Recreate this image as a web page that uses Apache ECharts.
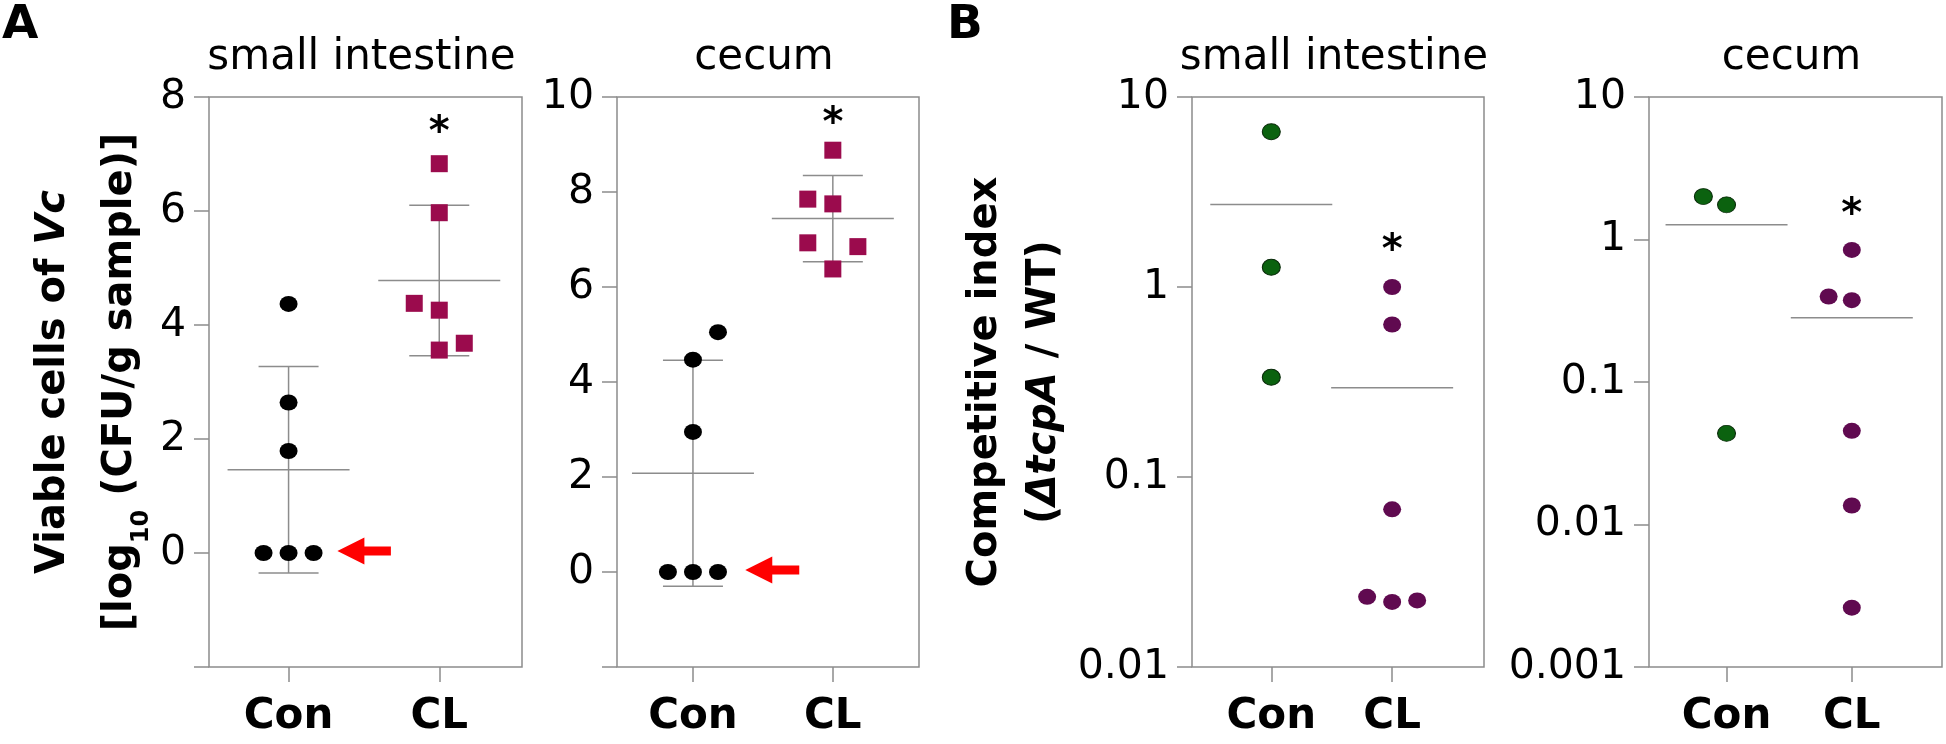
<!DOCTYPE html>
<html><head><meta charset="utf-8">
<script src="https://cdn.jsdelivr.net/npm/echarts@6/dist/echarts.min.js"></script>
<style>html,body{margin:0;padding:0;background:#fff}#c{width:1946px;height:744px}</style>
</head><body><div id="c"></div>
<script>
// ---------- DATA ----------
const groups = ['Con', 'CL'];
// Panel A: viable cells of Vc, log10 CFU/g sample
const siConA = [4.37, 2.64, 1.79, 0, 0, 0];
const siConASlot = [0, 0, 0, -1, 0, 1];
const siCLA = [6.83, 5.97, 4.38, 4.26, 3.56, 3.68];
const siCLASlot = [0, 0, -1, 0, 0, 1];
const siMeanA = [1.46, 4.78];
const siSDA = [1.81, 1.32];
const ceConA = [5.05, 4.47, 2.95, 0, 0, 0];
const ceConASlot = [1, 0, 0, -1, 0, 1];
const ceCLA = [8.88, 7.85, 7.75, 6.93, 6.85, 6.38];
const ceCLASlot = [0, -1, 0, -1, 1, 0];
const ceMeanA = [2.08, 7.44];
const ceSDA = [2.38, 0.91];
const starA = [7.52, 9.6];
const arrowA = [[1.324, 1.679], [1.374, 1.76]];
// Panel B: competitive index (dtcpA / WT)
const siConB = [6.57, 1.27, 0.335];
const siConBSlot = [0, 0, 0];
const siCLB = [1.0, 0.635, 0.0676, 0.0234, 0.022, 0.0224];
const siCLBSlot = [0, 0, 0, -1, 0, 1];
const siMeanB = [2.72, 0.295];
const ceConB = [2.0, 1.75, 0.0436];
const ceConBSlot = [-1, 0, 0];
const ceCLB = [0.845, 0.398, 0.375, 0.0454, 0.0136, 0.00261];
const ceCLBSlot = [0, -1, 0, 0, 0, 0];
const ceMeanB = [1.27, 0.282];
const starB = [1.71, 1.71];

// ---------- STYLE / LAYOUT ----------
const FONT = 'DejaVu Sans';
const GRAY = '#8c8c8c';
const TOP = 97, HEIGHT = 570;
const panels = [
  {left: 209, width: 313, xmin: 0.472, xmax: 2.549, jit: 0.166, title: 'small intestine', log: false, min: -2, max: 8},
  {left: 617, width: 302, xmin: 0.457, xmax: 2.616, jit: 0.179, title: 'cecum', log: false, min: -2, max: 10},
  {left: 1192, width: 292, xmin: 0.344, xmax: 2.76, jit: 0.207, title: 'small intestine', log: true, min: 0.01, max: 10},
  {left: 1649, width: 293, xmin: 0.381, xmax: 2.72, jit: 0.185, title: 'cecum', log: true, min: 0.001, max: 10}
];

const grids = panels.map(p => ({
  left: p.left, top: TOP, width: p.width, height: HEIGHT,
  show: true, borderColor: GRAY, borderWidth: 1.5, backgroundColor: 'transparent'
}));

const xAxes = panels.map((p, i) => ({
  type: 'value', gridIndex: i, min: p.xmin, max: p.xmax,
  axisLine: {show: false, onZero: false},
  splitLine: {show: false},
  axisTick: {show: true, customValues: [1, 2], length: 15, lineStyle: {color: GRAY, width: 1.5}},
  axisLabel: {show: true, customValues: [1, 2], margin: 29, formatter: v => groups[Math.round(v) - 1],
    fontFamily: FONT, fontSize: 42, fontWeight: 'bold', color: '#000'}
}));

function logFmt(v) {
  const e = Math.round(Math.log10(v));
  return e >= 0 ? String(Math.pow(10, e)) : Math.pow(10, e).toFixed(-e);
}

const nameRich = {
  b: {fontFamily: FONT, fontSize: 40, fontWeight: 'bold', color: '#000'},
  bi: {fontFamily: FONT, fontSize: 40, fontWeight: 'bold', fontStyle: 'italic', color: '#000'},
  sub: {fontFamily: FONT, fontSize: 24, fontWeight: 'bold', color: '#000', verticalAlign: 'bottom', lineHeight: 24}
};

const yAxes = panels.map((p, i) => {
  const base = {
    gridIndex: i, min: p.min, max: p.max,
    axisLine: {show: false, onZero: false},
    splitLine: {show: false},
    axisTick: {show: true, length: 15, lineStyle: {color: GRAY, width: 1.5}},
    axisLabel: {margin: 23, fontFamily: FONT, fontSize: 41, color: '#000'}
  };
  if (p.log) {
    base.type = 'log'; base.logBase = 10;
    base.axisLabel.formatter = logFmt;
  } else {
    base.type = 'value'; base.interval = 2;
    base.axisLabel.formatter = v => (v < 0 ? '' : String(v));
  }
  if (i === 0) {
    base.name = '{b|Viable cells of }{bi|Vc}\n{b|[log}{sub|10}{b| (CFU/g sample)]}';
    base.nameLocation = 'middle'; base.nameRotate = 90; base.nameGap = 55;
    base.nameTextStyle = {lineHeight: 67, rich: Object.fromEntries(Object.entries(nameRich).map(([k, s]) => [k, Object.assign({lineHeight: k === 'sub' ? 24 : 67}, s)]))};
  }
  if (i === 2) {
    base.name = '{b|Competitive index}\n{b|(}{bi|\u0394tcpA}{b| / WT)}';
    base.nameLocation = 'middle'; base.nameRotate = 90; base.nameGap = 100;
    base.nameTextStyle = {lineHeight: 59, rich: Object.fromEntries(Object.entries(nameRich).map(([k, s]) => [k, Object.assign({lineHeight: 59}, s)]))};
  }
  return base;
});

function pts(vals, slots, g, jit) { return vals.map((v, k) => [g + slots[k] * jit, v]); }

function scatter(i, data, symbol, color, border) {
  return {
    type: 'scatter', xAxisIndex: i, yAxisIndex: i, data, symbol,
    symbolSize: symbol === 'rect' ? 17 : [18, 16], z: 5, silent: true,
    itemStyle: {color, opacity: 1, borderColor: border || color, borderWidth: border ? 1 : 0}
  };
}

function meanSeries(i, means, sds) {
  return {
    type: 'custom', xAxisIndex: i, yAxisIndex: i, silent: true, z: 2,
    data: means.map((m, k) => sds ? [k + 1, m, m - sds[k], m + sds[k]] : [k + 1, m]),
    renderItem(params, api) {
      const x = api.value(0);
      const c = api.coord([x, api.value(1)]);
      const ls = {stroke: GRAY, lineWidth: 1.5};
      const ch = [{type: 'line', shape: {x1: c[0] - 61, y1: c[1], x2: c[0] + 61, y2: c[1]}, style: ls}];
      if (sds) {
        const lo = api.coord([x, api.value(2)]);
        const hi = api.coord([x, api.value(3)]);
        ch.push({type: 'line', shape: {x1: c[0], y1: lo[1], x2: c[0], y2: hi[1]}, style: ls});
        ch.push({type: 'line', shape: {x1: c[0] - 30, y1: lo[1], x2: c[0] + 30, y2: lo[1]}, style: ls});
        ch.push({type: 'line', shape: {x1: c[0] - 30, y1: hi[1], x2: c[0] + 30, y2: hi[1]}, style: ls});
      }
      return {type: 'group', children: ch};
    }
  };
}

function starSeries(i, yv) {
  return {
    type: 'custom', xAxisIndex: i, yAxisIndex: i, silent: true, z: 6,
    data: [[2, yv]],
    renderItem(params, api) {
      const c = api.coord([api.value(0), api.value(1)]);
      return {type: 'text', x: c[0], y: c[1] + 9, style: {text: '*', font: 'bold 40px "DejaVu Sans"', fill: '#000',
        align: 'center', verticalAlign: 'middle', textAlign: 'center', textVerticalAlign: 'middle'}};
    }
  };
}

function arrowSeries(i, a) {
  return {
    type: 'custom', xAxisIndex: i, yAxisIndex: i, silent: true, z: 6,
    data: [[a[0], a[1], 0]],
    renderItem(params, api) {
      const tip = api.coord([api.value(0), api.value(2)]);
      const tail = api.coord([api.value(1), api.value(2)]);
      const y = tip[1] - 2, hl = 27, hh = 13.5, sh = 4.5;
      const pts = [[tip[0], y], [tip[0] + hl, y - hh], [tip[0] + hl, y - sh], [tail[0], y - sh],
        [tail[0], y + sh], [tip[0] + hl, y + sh], [tip[0] + hl, y + hh]];
      return {type: 'polygon', shape: {points: pts}, style: {fill: '#ff0000'}};
    }
  };
}

const series = [
  meanSeries(0, siMeanA, siSDA),
  scatter(0, pts(siConA, siConASlot, 1, panels[0].jit), 'circle', '#000'),
  scatter(0, pts(siCLA, siCLASlot, 2, panels[0].jit), 'rect', '#9b0b4d'),
  starSeries(0, starA[0]),
  arrowSeries(0, arrowA[0]),
  meanSeries(1, ceMeanA, ceSDA),
  scatter(1, pts(ceConA, ceConASlot, 1, panels[1].jit), 'circle', '#000'),
  scatter(1, pts(ceCLA, ceCLASlot, 2, panels[1].jit), 'rect', '#9b0b4d'),
  starSeries(1, starA[1]),
  arrowSeries(1, arrowA[1]),
  meanSeries(2, siMeanB, null),
  scatter(2, pts(siConB, siConBSlot, 1, panels[2].jit), 'circle', '#0b620f', '#0a2a0a'),
  scatter(2, pts(siCLB, siCLBSlot, 2, panels[2].jit), 'circle', '#600a50'),
  starSeries(2, starB[0]),
  meanSeries(3, ceMeanB, null),
  scatter(3, pts(ceConB, ceConBSlot, 1, panels[3].jit), 'circle', '#0b620f', '#0a2a0a'),
  scatter(3, pts(ceCLB, ceCLBSlot, 2, panels[3].jit), 'circle', '#600a50'),
  starSeries(3, starB[1])
];

const titles = panels.map(p => ({
  text: p.title, left: p.left + p.width / 2 - 4, top: 37, textAlign: 'center', padding: 0,
  textStyle: {fontFamily: FONT, fontSize: 42, fontWeight: 'normal', color: '#000'}
}));
titles.push({text: 'A', left: 2, top: 2, padding: 0, textStyle: {fontFamily: FONT, fontSize: 47, fontWeight: 'bold', color: '#000'}});
titles.push({text: 'B', left: 947, top: 2, padding: 0, textStyle: {fontFamily: FONT, fontSize: 47, fontWeight: 'bold', color: '#000'}});

const chart = echarts.init(document.getElementById('c'), null, {renderer: 'canvas'});
chart.setOption({
  animation: false,
  backgroundColor: '#fff',
  title: titles,
  grid: grids,
  xAxis: xAxes,
  yAxis: yAxes,
  series
});
</script>
</body></html>
